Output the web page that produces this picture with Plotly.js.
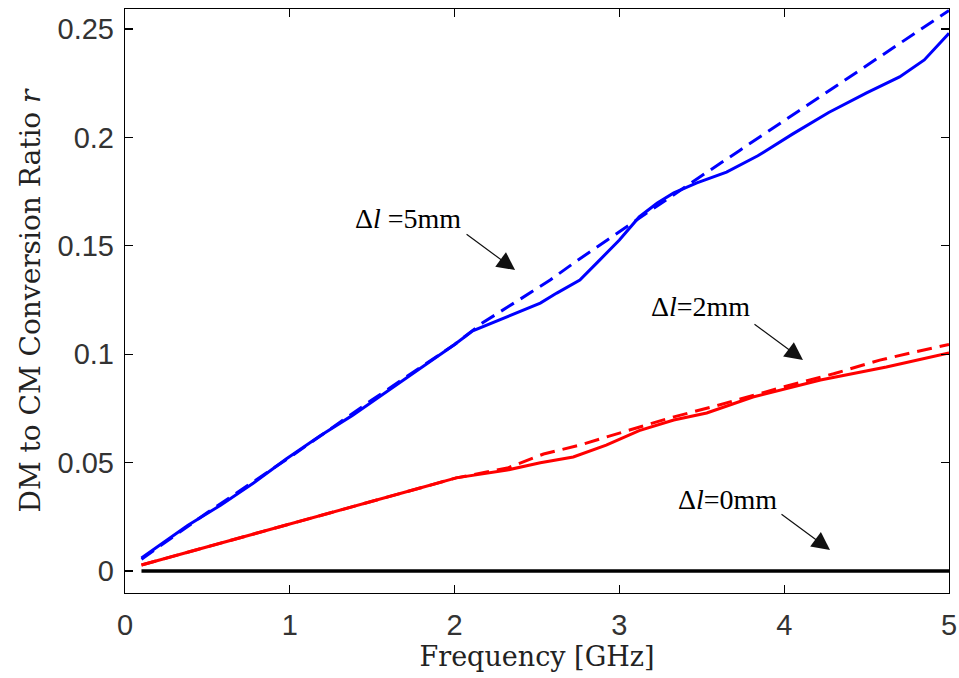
<!DOCTYPE html>
<html>
<head>
<meta charset="utf-8">
<script src="https://cdn.plot.ly/plotly-3.0.1.min.js"></script>
<style>html,body{margin:0;padding:0;background:#fff;}#chart{width:959px;height:678px;}</style>
</head>
<body>
<div id="chart"></div>
<script>
// Δl = 5 mm, solid
const blueSolidX = [0.1, 0.38, 0.58, 0.78, 0.98, 1.18, 1.38, 1.59, 1.79, 2.0, 2.11, 2.32, 2.52, 2.62, 2.76, 2.88, 3.0, 3.12, 3.23, 3.33, 3.47, 3.65, 3.84, 4.05, 4.27, 4.5, 4.7, 4.85, 5.0];
const blueSolidY = [0.006, 0.021, 0.0304, 0.0406, 0.0518, 0.0622, 0.0718, 0.083, 0.0935, 0.1045, 0.1108, 0.1172, 0.1236, 0.1282, 0.1342, 0.1434, 0.1527, 0.1633, 0.1697, 0.1744, 0.1790, 0.1840, 0.1915, 0.2015, 0.2115, 0.2205, 0.2279, 0.2357, 0.2480];
// Δl = 5 mm, dashed
const blueDashX = [0.1, 0.5, 1.0, 1.5, 2.0, 2.17, 2.4, 2.58, 2.74, 2.9, 3.08, 3.25, 3.45, 3.73, 4.05, 4.42, 4.77, 5.0];
const blueDashY = [0.0055, 0.027, 0.0525, 0.079, 0.1045, 0.1145, 0.1255, 0.1342, 0.1430, 0.1513, 0.1610, 0.1697, 0.1798, 0.1940, 0.2103, 0.2290, 0.2468, 0.2585];
// Δl = 2 mm, solid
const redSolidX = [0.1, 0.58, 0.98, 1.38, 1.79, 2.01, 2.32, 2.52, 2.72, 2.92, 3.12, 3.33, 3.53, 3.81, 4.22, 4.62, 5.0];
const redSolidY = [0.0028, 0.0128, 0.0214, 0.0295, 0.0383, 0.0430, 0.0466, 0.0500, 0.0526, 0.0581, 0.0648, 0.0697, 0.0729, 0.0803, 0.0881, 0.0941, 0.1006];
// Δl = 2 mm, dashed
const redDashX = [0.1, 0.58, 0.98, 1.38, 1.79, 2.01, 2.32, 2.54, 2.76, 2.92, 3.06, 3.3, 3.6, 4.0, 4.3, 4.58, 4.79, 5.0];
const redDashY = [0.0028, 0.0128, 0.0214, 0.0295, 0.0383, 0.0430, 0.0475, 0.0540, 0.0581, 0.0618, 0.0650, 0.0705, 0.0765, 0.0850, 0.0910, 0.0973, 0.1010, 0.1045];
// Δl = 0 mm
const blackX = [0.1, 5.0];
const blackY = [0, 0];

const xTickVals = [0, 1, 2, 3, 4, 5];
const xTickText = ['0', '1', '2', '3', '4', '5'];
const yTickVals = [0, 0.05, 0.1, 0.15, 0.2, 0.25];
const yTickText = ['0', '0.05', '0.1', '0.15', '0.2', '0.25'];

const labelTexts = ['Δ<i>l</i> =5mm', 'Δ<i>l</i>=2mm', 'Δ<i>l</i>=0mm'];
const labelX = [1.717, 3.495, 3.653];
const labelY = [0.1628, 0.1218, 0.0332];
const arrowX = [2.367, 4.114, 4.278];
const arrowY = [0.1388, 0.0973, 0.0097];

const traces = [
  {x: blueSolidX, y: blueSolidY, mode: 'lines', line: {color: '#0000ff', width: 3}},
  {x: blueDashX, y: blueDashY, mode: 'lines', line: {color: '#0000ff', width: 3, dash: '15px,8px'}},
  {x: redSolidX, y: redSolidY, mode: 'lines', line: {color: '#ff0000', width: 3}},
  {x: redDashX, y: redDashY, mode: 'lines', line: {color: '#ff0000', width: 3, dash: '15px,8px'}},
  {x: blackX, y: blackY, mode: 'lines', line: {color: '#000000', width: 3.5}}
];

const annotations = [];
for (let i = 0; i < labelTexts.length; i++) {
  annotations.push({x: labelX[i], y: labelY[i], xref: 'x', yref: 'y', text: labelTexts[i], showarrow: false,
    font: {family: 'Liberation Serif, Times New Roman, serif', size: 28, color: '#000'}});
  annotations.push({x: arrowX[i], y: arrowY[i], xref: 'x', yref: 'y', text: '', showarrow: true,
    ax: -50, ay: -37, arrowhead: 2, arrowsize: 3, arrowwidth: 1.2, arrowcolor: '#111'});
}

const axisCommon = {
  showline: true, linecolor: '#000', linewidth: 1.2, mirror: 'ticks', ticks: 'inside', ticklen: 8, tickwidth: 1.2,
  tickcolor: '#000', showgrid: false, zeroline: false,
  tickfont: {family: 'Liberation Sans, Arial, sans-serif', size: 29, color: '#333'}
};

const layout = {
  width: 959, height: 678,
  margin: {l: 125, r: 10, t: 9, b: 85},
  paper_bgcolor: '#fff', plot_bgcolor: '#fff',
  showlegend: false,
  xaxis: Object.assign({}, axisCommon, {
    range: [0, 5], tickmode: 'array', tickvals: xTickVals, ticktext: xTickText, ticklabelstandoff: 6,
    title: {text: 'Frequency [GHz]', standoff: 2, font: {family: 'DejaVu Serif, serif', size: 27, color: '#222'}}
  }),
  yaxis: Object.assign({}, axisCommon, {
    range: [-0.0101, 0.2592], tickmode: 'array', tickvals: yTickVals, ticktext: yTickText, ticklabelstandoff: 4,
    title: {text: 'DM to CM Conversion Ratio <i>r</i>', standoff: 8, font: {family: 'DejaVu Serif, serif', size: 28, color: '#222'}}
  }),
  annotations: annotations
};

Plotly.newPlot('chart', traces, layout, {displayModeBar: false, staticPlot: true});
</script>
</body>
</html>
